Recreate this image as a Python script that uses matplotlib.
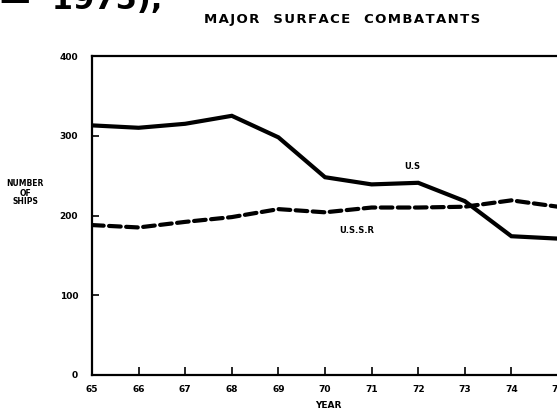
import matplotlib
matplotlib.use("Agg")
import matplotlib.pyplot as plt

years = [65, 66, 67, 68, 69, 70, 71, 72, 73, 74, 75]
us_ships = [313, 310, 315, 325, 298, 248, 239, 241, 218, 174, 171]
ussr_ships = [188, 185, 192, 198, 208, 204, 210, 210, 211, 219, 211]
year_labels = ["65", "66", "67", "68", "69", "70", "71", "72", "73", "74", "75"]
y_ticks = [0, 100, 200, 300, 400]
y_labels = ["0", "100", "200", "300", "400"]

fig = plt.figure(figsize=(5.57, 4.12), dpi=100)
W, H = 557, 412
left_px, right_px, top_px, bot_px = 92, 570, 56, 375
ax = fig.add_axes([left_px / W, (H - bot_px) / H, (right_px - left_px) / W, (bot_px - top_px) / H])

ax.plot(years, us_ships, color="black", lw=3.0, solid_joinstyle="miter")
ax.plot(years, ussr_ships, color="black", lw=3.0, dashes=(2.8, 1.3), dash_capstyle="round")

ax.set_xlim(65, 65 + (right_px - left_px) / 46.6)
ax.set_ylim(0, 400)
for s in ["left", "top", "bottom"]:
    ax.spines[s].set_linewidth(1.6)
ax.spines["right"].set_visible(False)

ax.set_xticks(years)
ax.set_xticklabels(year_labels, fontsize=6.5, fontweight="bold", family="Liberation Sans Narrow")
ax.set_yticks(y_ticks)
ax.set_yticklabels(y_labels, fontsize=6.5, fontweight="bold", family="Liberation Sans Narrow")
ax.tick_params(axis="x", direction="in", length=6, width=1.2, pad=7)
ax.tick_params(axis="y", direction="in", length=5, width=1.2, pad=10)

ax.text(71.7, 262, "U.S", fontsize=6, fontweight="bold", family="Liberation Sans Narrow", va="center")
ax.text(70.3, 181, "U.S.S.R", fontsize=6, fontweight="bold", family="Liberation Sans Narrow", va="center")

title = "\u200a".join("MAJOR") + "   " + "\u200a".join("SURFACE") + "   " + "\u200a".join("COMBATANTS")
fig.text(342 / W, 1 - 20 / H, title,
         ha="center", va="center", fontsize=9.5, fontweight="bold", family="DejaVu Sans")
fig.text(25 / W, 1 - 193 / H, "NUMBER\nOF\nSHIPS", ha="center", va="center", fontsize=5.5,
         fontweight="bold", family="Liberation Sans Narrow", linespacing=1.0)
fig.text(328 / W, 1 - 406 / H, "YEAR", ha="center", va="center", fontsize=6.5,
         fontweight="bold", family="DejaVu Sans")
fig.text(0 / W, 1 - 9 / H, "\u2014  1975),", ha="left", va="baseline", fontsize=22,
         fontweight="bold", family="DejaVu Sans")

fig.savefig("out.png", dpi=100)
